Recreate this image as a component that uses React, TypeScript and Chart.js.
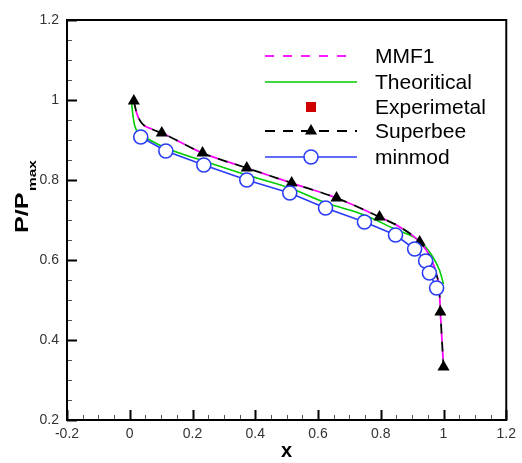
import React, { useEffect, useRef } from "react";
import { Chart, registerables } from "chart.js";

Chart.register(...registerables);

// ---- data ----
const theoryX = [0.006, 0.01, 0.016, 0.032, 0.064, 0.115, 0.236, 0.373, 0.51, 0.627, 0.748, 0.844, 0.924, 0.962, 0.987, 1.0];
const theoryY = [0.9925, 0.9625, 0.935, 0.915, 0.9, 0.88, 0.8475, 0.8125, 0.78, 0.7425, 0.7125, 0.6775, 0.6475, 0.6125, 0.575, 0.54];

const superbeeX = [0.013, 0.022, 0.038, 0.07, 0.102, 0.232, 0.373, 0.516, 0.659, 0.796, 0.866, 0.924, 0.959, 0.978, 0.987, 0.99, 1.0];
const superbeeY = [0.9975, 0.9675, 0.9425, 0.9275, 0.9175, 0.8675, 0.83, 0.7925, 0.755, 0.7075, 0.68, 0.645, 0.605, 0.5625, 0.52, 0.47, 0.3325];
const superbeeMarker = [true, false, false, false, true, true, true, true, true, true, false, true, false, false, false, true, true];

// MMF1 follows the same curve as Superbee in the picture
const mmf1X = superbeeX;
const mmf1Y = superbeeY;

const minmodX = [0.035, 0.115, 0.236, 0.373, 0.51, 0.624, 0.748, 0.847, 0.908, 0.943, 0.955, 0.978];
const minmodY = [0.9075, 0.8725, 0.8375, 0.8, 0.7675, 0.73, 0.695, 0.6625, 0.6275, 0.5975, 0.5675, 0.53];

const experimentalX: number[] = [];
const experimentalY: number[] = [];

const xTicks = [-0.2, 0, 0.2, 0.4, 0.6, 0.8, 1, 1.2];
const yTicks = [0.2, 0.4, 0.6, 0.8, 1, 1.2];

const legendLabels = ["MMF1", "Theoritical", "Experimetal", "Superbee", "minmod"];

const pts = (xs: number[], ys: number[]) => xs.map((x, i) => ({ x, y: ys[i] }));
const fmt = (v: any) => String(Number(Number(v).toFixed(3)));

const FONT = "'Liberation Sans', Arial, Helvetica, sans-serif";

const framePlugin = {
  id: "frameTicks",
  afterDatasetsDraw(chart: any) {
    const { ctx, chartArea: a, scales } = chart;
    const xs = scales.x, ys = scales.y;
    ctx.save();
    const step = 0.05;
    for (let v = xs.min; v <= xs.max + 1e-9; v += step) {
      const k = Math.round(v / step);
      const major = k % 4 === 0;
      const px = Math.round(xs.getPixelForValue(v)) + 0.5;
      ctx.beginPath();
      ctx.strokeStyle = major ? "#000" : "#555";
      ctx.lineWidth = major ? 2 : 1;
      ctx.moveTo(px, a.bottom);
      ctx.lineTo(px, a.bottom - (major ? 10 : 5));
      ctx.stroke();
    }
    for (let v = ys.min; v <= ys.max + 1e-9; v += step) {
      const k = Math.round(v / step);
      const major = k % 4 === 0;
      const py = Math.round(ys.getPixelForValue(v)) + 0.5;
      ctx.beginPath();
      ctx.strokeStyle = major ? "#000" : "#555";
      ctx.lineWidth = major ? 2 : 1;
      ctx.moveTo(a.left, py);
      ctx.lineTo(a.left + (major ? 10 : 5), py);
      ctx.stroke();
    }
    ctx.strokeStyle = "#000";
    ctx.lineWidth = 2;
    ctx.strokeRect(a.left, a.top, a.right - a.left, a.bottom - a.top);
    ctx.restore();
  },
  afterDraw(chart: any) {
    const { ctx, chartArea: a, data } = chart;
    const ds = data.datasets;
    ctx.save();
    ctx.fillStyle = "#000";
    ctx.font = `bold 20px ${FONT}`;
    ctx.textAlign = "center";
    ctx.textBaseline = "middle";
    ctx.fillText("x", (a.left + a.right) / 2, 451);

    ctx.save();
    ctx.translate(28, 233);
    ctx.rotate(-Math.PI / 2);
    ctx.scale(1.4, 1);
    ctx.font = `bold 18px ${FONT}`;
    ctx.textAlign = "left";
    ctx.textBaseline = "alphabetic";
    ctx.fillText("P/P", 0, 0);
    const w = ctx.measureText("P/P").width;
    ctx.font = `bold 11px ${FONT}`;
    ctx.fillText("max", w + 1, 8);
    ctx.restore();

    const rows = [56, 82, 107, 131, 157];
    const x0 = 265, x1 = 357, mx = 311, tx = 375;
    const byLabel = (l: string) => ds.find((d: any) => d.label === l);
    legendLabels.forEach((lab, i) => {
      const y = rows[i];
      const d = byLabel(lab);
      ctx.save();
      if (lab !== "Experimetal") {
        ctx.beginPath();
        ctx.strokeStyle = d.borderColor;
        ctx.lineWidth = d.borderWidth;
        ctx.setLineDash(d.borderDash || []);
        ctx.moveTo(x0, y);
        ctx.lineTo(lab === "MMF1" ? 349 : x1, y);
        ctx.stroke();
        ctx.setLineDash([]);
      }
      if (lab === "Experimetal") {
        ctx.fillStyle = "#d00000";
        ctx.fillRect(mx - 5, y - 5, 10, 10);
      } else if (lab === "Superbee") {
        ctx.fillStyle = "#000";
        ctx.beginPath();
        const r = 7;
        ctx.moveTo(mx, y - r);
        ctx.lineTo(mx + r * 0.866, y + r * 0.5);
        ctx.lineTo(mx - r * 0.866, y + r * 0.5);
        ctx.closePath();
        ctx.fill();
      } else if (lab === "minmod") {
        ctx.beginPath();
        ctx.fillStyle = "#fff";
        ctx.strokeStyle = d.borderColor;
        ctx.lineWidth = 1.6;
        ctx.arc(mx, y, 7, 0, Math.PI * 2);
        ctx.fill();
        ctx.stroke();
      }
      ctx.fillStyle = "#000";
      ctx.font = `21px ${FONT}`;
      ctx.textAlign = "left";
      ctx.textBaseline = "middle";
      ctx.fillText(lab, tx, y + 1);
      ctx.restore();
    });
    ctx.restore();
  },
};

export default function App() {
  const ref = useRef<HTMLCanvasElement | null>(null);
  useEffect(() => {
    if (!ref.current) return;
    const chart = new Chart(ref.current, {
      type: "line",
      data: {
        datasets: [
          {
            label: "minmod",
            data: pts(minmodX, minmodY),
            borderColor: "#2a3cf5",
            borderWidth: 1.6,
            pointRadius: 7,
            pointBorderWidth: 1.6,
            pointBackgroundColor: "#ffffff",
            pointBorderColor: "#2a3cf5",
            pointStyle: "circle",
            tension: 0,
          },
          {
            label: "Superbee",
            data: pts(superbeeX, superbeeY),
            borderColor: "#000000",
            borderWidth: 1.8,
            borderDash: [10, 8],
            pointRadius: superbeeMarker.map((m) => (m ? 7 : 0)),
            pointBorderWidth: 0,
            pointBackgroundColor: "#000000",
            pointBorderColor: "#000000",
            pointStyle: "triangle",
            cubicInterpolationMode: "monotone",
          },
          {
            label: "MMF1",
            data: pts(mmf1X, mmf1Y),
            borderColor: "#ff00ff",
            borderWidth: 1.8,
            borderDash: [9, 9],
            borderDashOffset: 9,
            pointRadius: 0,
            cubicInterpolationMode: "monotone",
          },
          {
            label: "Experimetal",
            data: pts(experimentalX, experimentalY),
            showLine: false,
            pointStyle: "rect",
            pointRadius: 5,
            pointBackgroundColor: "#d00000",
            borderColor: "#d00000",
          },
          {
            label: "Theoritical",
            data: pts(theoryX, theoryY),
            borderColor: "#00cc00",
            borderWidth: 1.6,
            pointRadius: 0,
            cubicInterpolationMode: "monotone",
          },
        ],
      },
      options: {
        animation: false,
        responsive: false,
        devicePixelRatio: 1,
        layout: { padding: { left: 0, right: 15, top: 20, bottom: 0 } },
        plugins: { legend: { display: false }, tooltip: { enabled: false } },
        scales: {
          x: {
            type: "linear",
            min: -0.2,
            max: 1.2,
            afterFit: (s: any) => { s.height = 43; },
            afterBuildTicks: (s: any) => { s.ticks = xTicks.map((v) => ({ value: v })); },
            grid: { display: false, drawTicks: false },
            border: { display: false },
            ticks: { padding: 6, color: "#333", font: { family: FONT, size: 14 }, maxRotation: 0, autoSkip: false, callback: (v: any) => fmt(v) },
          },
          y: {
            type: "linear",
            min: 0.2,
            max: 1.2,
            afterFit: (s: any) => { s.width = 67; },
            afterBuildTicks: (s: any) => { s.ticks = yTicks.map((v) => ({ value: v })); },
            grid: { display: false, drawTicks: false },
            border: { display: false },
            ticks: { padding: 8, color: "#333", font: { family: FONT, size: 14 }, autoSkip: false, callback: (v: any) => fmt(v) },
          },
        },
      },
      plugins: [framePlugin],
    });
    return () => chart.destroy();
  }, []);
  return (
    <div style={{ position: "fixed", left: 0, top: 0, width: 522, height: 463, background: "#fff" }}>
      <canvas ref={ref} width={522} height={463} />
    </div>
  );
}
